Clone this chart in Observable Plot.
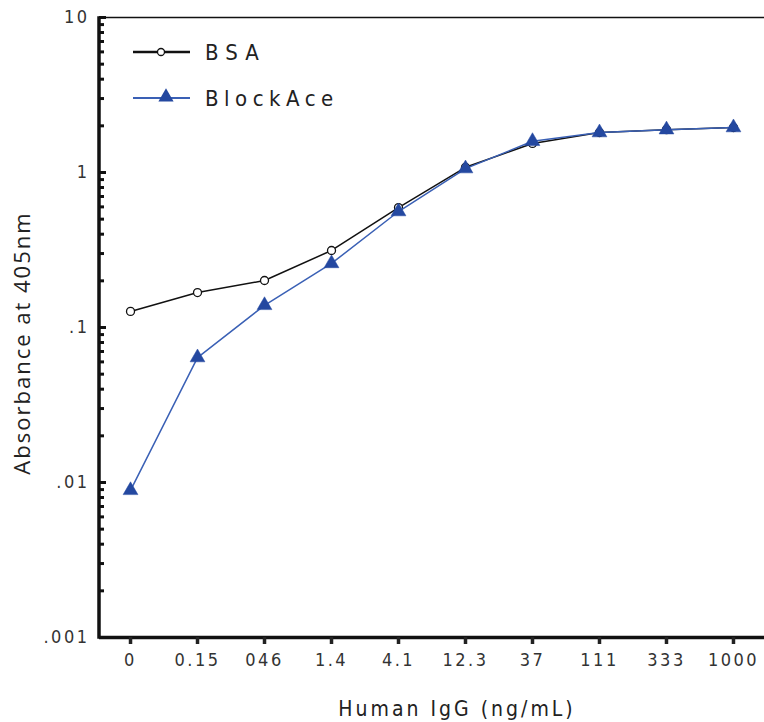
<!DOCTYPE html>
<html>
<head>
<meta charset="utf-8">
<script src="https://cdn.jsdelivr.net/npm/d3@7"></script>
<script src="https://cdn.jsdelivr.net/npm/@observablehq/plot@0.6"></script>
<style>
  html, body { margin: 0; padding: 0; background: #fff; }
  #chart svg { display: block; }
</style>
</head>
<body>
<div id="chart"></div>
<script>
// ---- data ----
const categories = ["0", "0.15", "046", "1.4", "4.1", "12.3", "37", "111", "333", "1000"];
const bsaValues = [0.127, 0.168, 0.201, 0.314, 0.594, 1.08, 1.54, 1.81, 1.89, 1.95];
const blockAceValues = [0.0089, 0.064, 0.139, 0.259, 0.56, 1.06, 1.59, 1.81, 1.89, 1.95];
const yTickValues = [0.001, 0.01, 0.1, 1, 10];
const yTickLabels = [".001", ".01", ".1", "1", "10"];
const seriesNames = ["BSA", "BlockAce"];
const xTitle = "Human IgG (ng/mL)";
const yTitle = "Absorbance at 405nm";

const bsa = categories.map((c, i) => ({x: c, y: bsaValues[i]}));
const blockAce = categories.map((c, i) => ({x: c, y: blockAceValues[i]}));
const minorTicks = [];
for (const d of yTickValues.slice(0, -1)) for (let k = 2; k <= 9; k++) minorTicks.push(d * k);

const blackC = "#111";
const blueLine = "#3a60b5";
const blueFill = "#2448a0";
const condFont = '"Liberation Sans Narrow", "DejaVu Sans Condensed", "Liberation Sans", sans-serif';

const W = 764, H = 722;
const mL = 99, mR = 0;
const innerW = W - mL - mR;
const plot = Plot.plot({
  width: W,
  height: H,
  marginLeft: mL,
  marginRight: mR,
  marginTop: 17,
  marginBottom: 85,
  style: {fontFamily: condFont, color: "#222", background: "#fff"},
  x: {type: "point", domain: categories, padding: 0.463, round: false},
  y: {type: "log", domain: [0.001, 10]},
  marks: [
    Plot.ruleY([10], {stroke: blackC, strokeWidth: 1.5}),
    Plot.ruleY([0.001], {stroke: blackC, strokeWidth: 3.5}),
    Plot.tickY(minorTicks, {y: d => d, stroke: blackC, strokeWidth: 3, insetLeft: 0, insetRight: innerW - 5}),
    Plot.tickY(yTickValues, {y: d => d, stroke: blackC, strokeWidth: 3, insetLeft: 0, insetRight: innerW - 7}),
    Plot.axisY(yTickValues, {anchor: "left", tickSize: 0, tickPadding: 10, fontSize: 18, fill: "#333", tickFormat: (d) => yTickLabels[yTickValues.indexOf(d)], label: null}),
    Plot.axisX({anchor: "bottom", tickSize: 7, strokeWidth: 3.5, tickPadding: 9, fontSize: 18, fill: "#333", label: null}),
    Plot.line(bsa, {x: "x", y: "y", stroke: blackC, strokeWidth: 1.5}),
    Plot.dot(bsa, {x: "x", y: "y", r: 4, fill: "#fff", stroke: blackC, strokeWidth: 1.3}),
    Plot.line(blockAce, {x: "x", y: "y", stroke: blueLine, strokeWidth: 1.5}),
    Plot.dot(blockAce, {x: "x", y: "y", symbol: "triangle", r: 5.5, fill: blueFill, stroke: blueFill, strokeWidth: 0.5})
  ]
});

document.getElementById("chart").appendChild(plot);

// decorations: left spine, titles, legend
const svg = d3.select(plot);
const ys = plot.scale("y");
const y0 = ys.apply(0.001), y1 = ys.apply(10);
svg.append("line").attr("x1", mL).attr("x2", mL).attr("y1", y1 - 0.75).attr("y2", y0 + 1.75)
  .attr("stroke", blackC).attr("stroke-width", 3.5);

svg.selectAll("g[aria-label='x-axis tick label'] text, g[aria-label='y-axis tick label'] text")
  .style("letter-spacing", "2.5px");

svg.append("text")
  .attr("transform", `translate(21, ${(y0 + y1) / 2 + 16}) rotate(-90)`)
  .attr("text-anchor", "middle")
  .attr("dominant-baseline", "central")
  .attr("font-family", '"Open Sans", sans-serif')
  .attr("font-size", 22)
  .attr("letter-spacing", "2px")
  .attr("fill", "#222")
  .text(yTitle);

svg.append("text")
  .attr("x", 457).attr("y", 709)
  .attr("text-anchor", "middle")
  .attr("dominant-baseline", "central")
  .attr("font-size", 21)
  .attr("letter-spacing", "3px")
  .attr("fill", "#222")
  .text(xTitle);

// legend
const lg = svg.append("g");
const legendRows = [
  {name: seriesNames[0], y: 52, stroke: blackC, sw: 2.5},
  {name: seriesNames[1], y: 98, stroke: blueLine, sw: 2}
];
legendRows.forEach((r, i) => {
  lg.append("line").attr("x1", 133).attr("x2", 190).attr("y1", r.y).attr("y2", r.y)
    .attr("stroke", r.stroke).attr("stroke-width", r.sw);
  if (i === 0) {
    lg.append("circle").attr("cx", 161).attr("cy", r.y).attr("r", 3.5)
      .attr("fill", "#fff").attr("stroke", blackC).attr("stroke-width", 1.3);
  } else {
    lg.append("path").attr("d", d3.symbol(d3.symbolTriangle, 100)()).attr("transform", `translate(166, ${r.y - 1})`)
      .attr("fill", blueFill);
  }
  lg.append("text").attr("x", 205).attr("y", r.y).attr("text-anchor", "start").attr("dominant-baseline", "central")
    .attr("font-size", 22).attr("letter-spacing", i === 0 ? "7px" : "5.5px").attr("fill", "#222")
    .text(r.name);
});
</script>
</body>
</html>
